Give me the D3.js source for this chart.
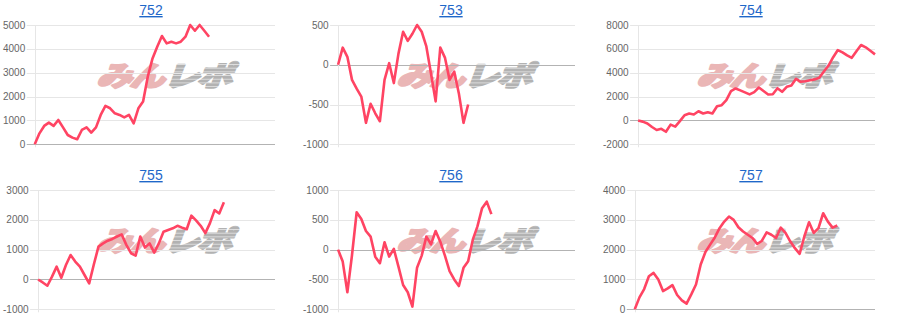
<!DOCTYPE html>
<html lang="ja">
<head>
<meta charset="UTF-8">
<title>台別差枚グラフ</title>
<script src="https://d3js.org/d3.v7.min.js"></script>
<style>
  body { margin: 0; background: #fff; }
  svg { display: block; font-family: 'Liberation Sans', Arial, sans-serif; }
  .tick-label { fill: #666; font-size: 10px; }
  .title { fill: #1f67c9; font-size: 14px; text-decoration: underline; }
</style>
</head>
<body>
<svg id="chart" width="900" height="330"></svg>
<script>
// machine numbers (panel titles)
const machines = ['752', '753', '754', '755', '756', '757'];

// shared x categories (labels are hidden in the chart)
const xLabels = d3.range(1, 53);

// cumulative values per machine
const s752 = [0, 460, 770, 910, 770, 1020, 710, 390, 280, 210, 600, 710, 490, 710, 1230, 1610, 1510, 1300, 1230,
  1130, 1230, 880, 1510, 1790, 2840, 3600, 4090, 4540, 4230, 4300, 4230, 4300, 4510, 5000, 4760, 5000, 4760, 4510];
const s753 = [0, 215, 100, -190, -300, -400, -730, -490, -610, -710, -190, 20, -230, 140, 415, 300, 390, 500, 415,
  230, -110, -460, 215, 90, -190, -85, -360, -730, -500];
const s754 = [0, -100, -250, -550, -800, -700, -950, -350, -520, -60, 440, 580, 500, 770, 580, 690, 580, 1190, 1280,
  1700, 2450, 2680, 2520, 2350, 2180, 2370, 2760, 2470, 2180, 2200, 2700, 2400, 2820, 2930, 3490, 3240, 3290, 3370,
  3440, 3570, 4100, 4600, 5300, 5900, 5700, 5450, 5250, 5800, 6320, 6130, 5840, 5540];
const s755 = [0, -100, -210, 95, 430, 60, 485, 820, 600, 430, 150, -130, 500, 1100, 1210, 1300, 1360, 1440, 1510,
  1160, 880, 800, 1440, 1070, 1210, 900, 1210, 1600, 1660, 1716, 1800, 1737, 1683, 2140, 1980, 1800, 1553, 1888,
  2324, 2212, 2590];
const s756 = [0, -200, -715, -90, 627, 515, 313, 218, -117, -228, 124, -117, 12, -285, -592, -714, -955, -302, -100,
  218, 90, 313, 134, -100, -360, -500, -610, -305, -195, 167, 390, 695, 805, 595];
const s757 = [0, 400, 680, 1110, 1220, 1000, 610, 700, 810, 480, 300, 190, 500, 830, 1500, 1920, 2170, 2410, 2720,
  2940, 3110, 3000, 2750, 2610, 2500, 2390, 2190, 2300, 2580, 2500, 2390, 2740, 2560, 2280, 2050, 1860, 2440, 2920,
  2560, 2720, 3220, 2940, 2740, 2810];

// y-axis ticks per machine
const t752 = [0, 1000, 2000, 3000, 4000, 5000];
const t753 = [-1000, -500, 0, 500];
const t754 = [-2000, 0, 2000, 4000, 6000, 8000];
const t755 = [-1000, 0, 1000, 2000, 3000];
const t756 = [-1000, -500, 0, 500, 1000];
const t757 = [0, 1000, 2000, 3000, 4000];

const series = [s752, s753, s754, s755, s756, s757];
const ticks = [t752, t753, t754, t755, t756, t757];

const svg = d3.select('#chart');
const panelW = 300, panelH = 165;

// striped fill for the grey half of the logo
const defs = svg.append('defs');
const pat = defs.append('pattern')
  .attr('id', 'stripes')
  .attr('patternUnits', 'userSpaceOnUse')
  .attr('width', 6).attr('height', 4);
pat.append('rect').attr('width', 6).attr('height', 3).attr('fill', '#b2b2b2');
pat.append('rect').attr('y', 3).attr('width', 6).attr('height', 1).attr('fill', '#dedede');

machines.forEach((name, i) => {
  const ox = (i % 3) * panelW;
  const oy = Math.floor(i / 3) * panelH;
  const g = svg.append('g').attr('transform', `translate(${ox},${oy})`);
  const tv = ticks[i];

  // measure widest tick label to place the axis
  const probe = g.append('g');
  let maxW = 0;
  tv.forEach(t => {
    const el = probe.append('text').attr('class', 'tick-label').text(t);
    maxW = Math.max(maxW, el.node().getComputedTextLength());
  });
  probe.remove();

  const left = maxW + 12.5, right = 275;
  const top = 25, bottom = 144.3;

  const x = d3.scalePoint().domain(xLabels).range([left, right]);
  const y = d3.scaleLinear().domain(d3.extent(tv)).range([bottom, top]);

  // watermark logo
  const logo = g.append('g')
    .attr('transform', `translate(166,76) scale(1.18,0.92) skewX(-16)`)
    .style('font-family', "'Noto Sans CJK JP', sans-serif")
    .style('font-weight', 900)
    .style('font-size', '30px')
    .attr('stroke-width', 2.2)
    .attr('stroke-linejoin', 'round');
  logo.append('text')
    .attr('x', 0).attr('y', 11)
    .attr('text-anchor', 'end')
    .attr('fill', '#eab6b6')
    .attr('stroke', '#eab6b6')
    .attr('letter-spacing', '-2')
    .text('みん');
  logo.append('text')
    .attr('x', 1).attr('y', 11)
    .attr('text-anchor', 'start')
    .attr('fill', 'url(#stripes)')
    .attr('stroke', 'url(#stripes)')
    .attr('letter-spacing', '-2')
    .text('レポ');

  // horizontal gridlines with tick marks
  g.append('g').selectAll('line')
    .data(tv)
    .join('line')
    .attr('x1', left - 8).attr('x2', right)
    .attr('y1', d => Math.round(y(d)) + 0.5)
    .attr('y2', d => Math.round(y(d)) + 0.5)
    .attr('stroke', d => d === 0 ? '#b3b3b3' : '#e6e6e6')
    .attr('stroke-width', 1);

  // y axis line
  g.append('line')
    .attr('x1', Math.round(left) + 0.5).attr('x2', Math.round(left) + 0.5)
    .attr('y1', top).attr('y2', bottom + 3)
    .attr('stroke', '#e6e6e6');

  // tick labels
  g.append('g').selectAll('text')
    .data(tv)
    .join('text')
    .attr('class', 'tick-label')
    .attr('x', left - 9.5)
    .attr('y', d => y(d))
    .attr('dy', '0.35em')
    .attr('text-anchor', 'end')
    .text(d => d);

  // data line
  const line = d3.line()
    .x((d, k) => x(xLabels[k]))
    .y(d => y(d));
  g.append('path')
    .datum(series[i])
    .attr('d', line)
    .attr('fill', 'none')
    .attr('stroke', '#ff4463')
    .attr('stroke-width', 2.6)
    .attr('stroke-linejoin', 'round');

  // title link
  g.append('a')
    .attr('href', '#' + name)
    .append('text')
    .attr('class', 'title')
    .attr('x', 151)
    .attr('y', 15)
    .attr('text-anchor', 'middle')
    .text(name);
});
</script>
</body>
</html>
